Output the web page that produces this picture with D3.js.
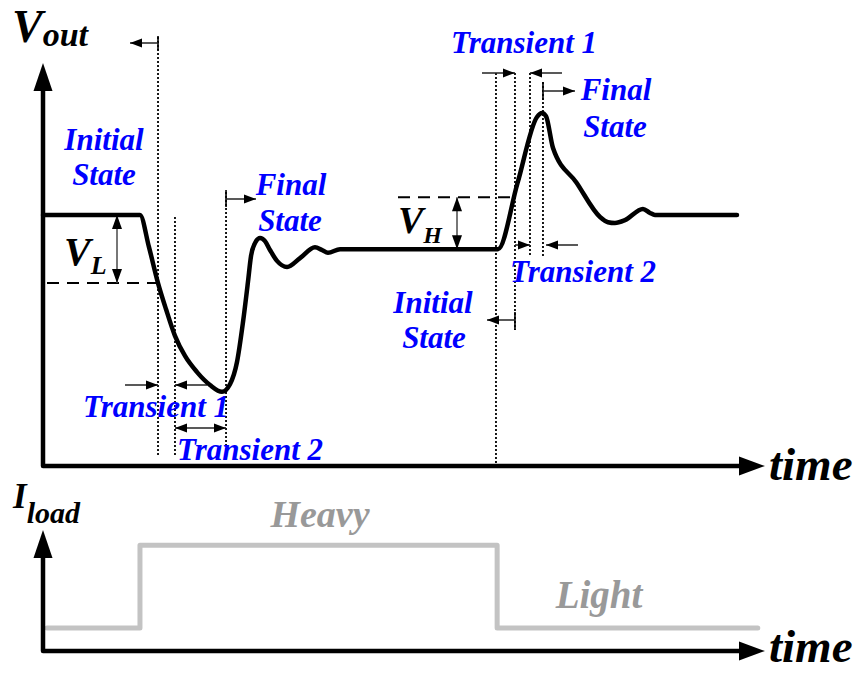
<!DOCTYPE html>
<html>
<head>
<meta charset="utf-8">
<script src="https://cdn.jsdelivr.net/npm/d3@7"></script>
<style>
  html, body { margin: 0; padding: 0; background: #fff; }
  svg { display: block; }
  text { font-family: "Liberation Serif", "Times New Roman", serif; font-weight: bold; font-style: italic; }
</style>
</head>
<body>
<svg id="chart" width="868" height="673"></svg>
<script>
// Output voltage waveform (time in % of the window, voltage in arbitrary units)
const vTime = [0, 13.43, 14.68, 15.93, 17.04, 18.28, 19.67, 21.33, 23.13, 24.79, 25.9, 26.87, 27.7, 28.39, 28.81, 29.36, 30.06, 30.75, 31.44, 32.41, 33.8, 35.6, 37.67, 38.64, 39.47, 41.14, 63.02, 65.72, 68.42, 69.11, 69.67, 70.64, 73.9, 77.15, 78.25, 79.22, 80.61, 83.1, 84.07, 84.76, 96.12];
const vOut  = [62.3, 62.3, 54.3, 45.4, 38.9, 32.3, 27.3, 23.3, 20.1, 18.4, 20.3, 25.8, 35.7, 45.7, 52.1, 55.3, 56.6, 55.8, 53.6, 50.9, 49.4, 51.6, 54.3, 53.6, 52.9, 53.8, 53.8, 70.2, 86.6, 87.6, 86.8, 78.9, 70.3, 61.8, 60.5, 60.3, 61.0, 63.8, 62.8, 62.3, 62.3];

// Load current step
const iTime = [0.55, 13.43, 13.43, 62.9, 62.9, 99.0];
const iLoad = [1.9, 1.9, 8.75, 8.75, 1.9, 1.9];

// Reference levels for the undershoot / overshoot brackets
const levelInitL = 62.3, levelVL = 45.4;
const levelInitH = 53.8, levelVH = 66.7;

// Phase boundaries (time)
const stepUp   = [15.93, 18.28, 25.35];   // load step-up: end of initial, end of transient 1, start of final
const stepDown = [62.74, 65.37, 67.45, 69.25];

const svg = d3.select("#chart");
const x  = d3.scaleLinear().domain([0, 100]).range([43, 765]);
const yV = d3.scaleLinear().domain([0, 100]).range([466, 63]);
const yI = d3.scaleLinear().domain([0, 10]).range([651, 530]);

const BLUE = "#0000ff";

function tri(x0, y0, dir, len, half, fill) {
  let pts;
  if (dir === "right") pts = [[x0, y0], [x0 - len, y0 - half], [x0 - len, y0 + half]];
  else if (dir === "left") pts = [[x0, y0], [x0 + len, y0 - half], [x0 + len, y0 + half]];
  else if (dir === "up") pts = [[x0, y0], [x0 - half, y0 + len], [x0 + half, y0 + len]];
  else pts = [[x0, y0], [x0 - half, y0 - len], [x0 + half, y0 - len]];
  svg.append("path").attr("d", "M" + pts.join("L") + "Z").attr("fill", fill || "#000");
}

function axes(yBase, yTop) {
  svg.append("path")
    .attr("d", `M${x(0)},${yTop + 20}L${x(0)},${yBase}L${x(100) - 20},${yBase}`)
    .attr("fill", "none").attr("stroke", "#000").attr("stroke-width", 4.5)
    .attr("stroke-linejoin", "round");
  tri(x(0), yTop, "up", 28, 9.5);
  tri(x(100), yBase, "right", 26, 9.5);
}

// --- upper panel: Vout ---
axes(yV(0), yV(100));

// dotted phase boundaries
function vdot(t, y1, y2) {
  svg.append("line").attr("x1", x(t)).attr("x2", x(t)).attr("y1", y1).attr("y2", y2)
    .attr("stroke", "#000").attr("stroke-width", 1.8).attr("stroke-dasharray", "2,2");
}
vdot(stepUp[0], 37, 455);
vdot(stepUp[1], 217, 455);
vdot(stepUp[2], 192, 455);
vdot(stepDown[0], 73, yV(0));
vdot(stepDown[1], 73, 330);
vdot(stepDown[2], 73, 257);
vdot(stepDown[3], 82, 257);

// small horizontal arrows
function harrow(xFrom, xTo, y, dblHead) {
  svg.append("line").attr("x1", xFrom).attr("x2", xTo).attr("y1", y).attr("y2", y)
    .attr("stroke", "#222").attr("stroke-width", 1.5);
  tri(xTo, y, xTo > xFrom ? "right" : "left", 12, 4.5);
  if (dblHead) tri(xFrom, y, xTo > xFrom ? "left" : "right", 12, 4.5);
}
function tick(xp, y1, y2) {
  svg.append("line").attr("x1", xp).attr("x2", xp).attr("y1", y1).attr("y2", y2)
    .attr("stroke", "#000").attr("stroke-width", 1.6);
}

// step-up annotations
tick(x(stepUp[0]), 36, 50);   harrow(x(stepUp[0]), x(stepUp[0]) - 28, 43);
tick(x(stepUp[2]), 190, 207); harrow(x(stepUp[2]), x(stepUp[2]) + 30, 199);
harrow(x(stepUp[0]) - 33, x(stepUp[0]), 385);
harrow(x(stepUp[1]) + 32, x(stepUp[1]), 385);
harrow(x(stepUp[1]), x(stepUp[2]), 428, true);

// step-down annotations
harrow(x(stepDown[1]) - 33, x(stepDown[1]), 73);
harrow(x(stepDown[2]) + 32, x(stepDown[2]), 73);
tick(x(stepDown[3]), 82, 100); harrow(x(stepDown[3]), x(stepDown[3]) + 32, 91);
harrow(x(stepDown[1]), x(stepDown[2]), 245);
harrow(x(stepDown[3]) + 35, x(stepDown[3]) + 3, 245);
tick(x(stepDown[1]), 312, 330); harrow(x(stepDown[1]), x(stepDown[1]) - 28, 320);

// dashed reference levels
svg.append("line").attr("x1", x(0) + 4).attr("x2", x(stepUp[0])).attr("y1", yV(levelVL)).attr("y2", yV(levelVL))
  .attr("stroke", "#000").attr("stroke-width", 2).attr("stroke-dasharray", "12,8");
svg.append("line").attr("x1", 398).attr("x2", 512).attr("y1", yV(levelVH)).attr("y2", yV(levelVH))
  .attr("stroke", "#000").attr("stroke-width", 2).attr("stroke-dasharray", "12,8");

// vertical brackets
function varrow(xp, v1, v2) {
  const a = yV(v1), b = yV(v2);
  svg.append("line").attr("x1", xp).attr("x2", xp).attr("y1", a).attr("y2", b)
    .attr("stroke", "#555").attr("stroke-width", 1.6);
  tri(xp, Math.min(a, b), "up", 14, 5);
  tri(xp, Math.max(a, b), "down", 14, 5);
}
varrow(117, levelInitL, levelVL);
varrow(457, levelInitH, levelVH);

// Vout waveform
const vLine = d3.line().x((d, i) => x(vTime[i])).y(d => yV(d)).curve(d3.curveMonotoneX);
svg.append("path").attr("d", vLine(vOut))
  .attr("fill", "none").attr("stroke", "#000").attr("stroke-width", 4.5)
  .attr("stroke-linejoin", "round").attr("stroke-linecap", "round");

// --- lower panel: Iload ---
const iLine = d3.line().x((d, i) => x(iTime[i])).y(d => yI(d));
svg.append("path").attr("d", iLine(iLoad))
  .attr("fill", "none").attr("stroke", "#c3c3c3").attr("stroke-width", 5)
  .attr("stroke-linejoin", "round").attr("stroke-linecap", "round");
axes(yI(0), yI(10));

// --- labels ---
function label(str, cx, y, size, color, anchor) {
  return svg.append("text").attr("x", cx).attr("y", y).attr("font-size", size)
    .attr("fill", color || "#000").attr("text-anchor", anchor || "middle").text(str);
}
function subLabel(main, sub, x0, y, s1, s2, dy) {
  const t = svg.append("text").attr("x", x0).attr("y", y).attr("fill", "#000");
  t.append("tspan").attr("font-size", s1).text(main);
  t.append("tspan").attr("font-size", s2).attr("dy", dy).text(sub);
}

subLabel("V", "out", 12, 42, 46, 34, 4);
subLabel("I", "load", 13, 508, 35, 30, 15);
subLabel("V", "L", 64, 265, 40, 26, 9);
subLabel("V", "H", 398, 233, 38, 24, 10);

label("time", 769, 480, 47, "#000", "start");
label("time", 769, 662, 47, "#000", "start");

label("Heavy", 320, 527, 38, "#999999");
label("Light", 599, 608, 39, "#999999");

const B = 31;
label("Initial", 104, 150, B, BLUE);
label("State", 104, 185, B, BLUE);
label("Final", 291, 195, B, BLUE);
label("State", 290, 231, B, BLUE);
label("Transient 1", 156, 417, B, BLUE);
label("Transient 2", 250, 460, B, BLUE);
label("Transient 1", 524, 53, B, BLUE);
label("Final", 616, 100, B, BLUE);
label("State", 615, 137, B, BLUE);
label("Transient 2", 583, 282, B, BLUE);
label("Initial", 433, 313, B, BLUE);
label("State", 434, 348, B, BLUE);
</script>
</body>
</html>
